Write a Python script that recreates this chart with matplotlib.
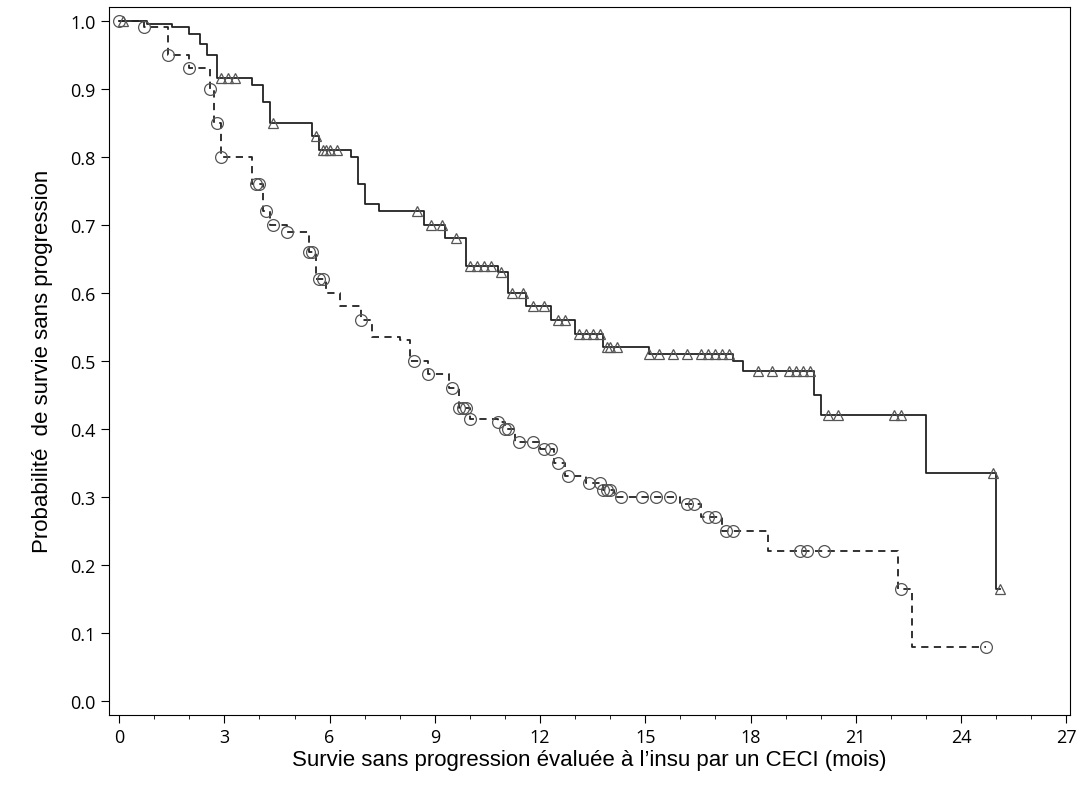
import matplotlib
matplotlib.use("Agg")
import matplotlib.pyplot as plt
import numpy as np

# Treatment arm (solid, triangles)
t_a = [0, 0.8, 1.5, 2.0, 2.3, 2.5, 2.8, 3.8, 4.1, 4.3, 5.5, 5.7, 6.6, 6.8, 7.0, 7.4, 8.7, 9.3, 9.9, 10.8, 11.1, 11.6, 12.3, 13.0, 13.8, 15.1, 17.5, 17.8, 19.8, 20.0, 23.0, 25.0]
s_a = [1.0, 0.995, 0.99, 0.98, 0.965, 0.95, 0.915, 0.905, 0.88, 0.85, 0.83, 0.81, 0.80, 0.76, 0.73, 0.72, 0.70, 0.68, 0.64, 0.63, 0.60, 0.58, 0.56, 0.54, 0.52, 0.51, 0.50, 0.485, 0.45, 0.42, 0.335, 0.165]
cens_a = [0.1, 2.9, 3.1, 3.3, 4.4, 5.6, 5.8, 5.9, 6.0, 6.2, 8.5, 8.9, 9.2, 9.6, 10.0, 10.2, 10.4, 10.6, 10.9, 11.2, 11.5, 11.8, 12.1, 12.5, 12.7, 13.1, 13.3, 13.5, 13.7, 13.9, 14.0, 14.2, 15.1, 15.4, 15.8, 16.2, 16.6, 16.8, 17.0, 17.2, 17.4, 18.2, 18.6, 19.1, 19.3, 19.5, 19.7, 20.2, 20.5, 22.1, 22.3, 24.9, 25.1]

# Control arm (dashed, circles)
t_b = [0, 0.7, 1.4, 2.0, 2.6, 2.7, 2.9, 3.8, 4.1, 4.3, 4.8, 5.4, 5.6, 5.9, 6.3, 6.9, 7.2, 8.0, 8.3, 8.8, 9.4, 9.7, 10.0, 10.8, 11.0, 11.3, 12.0, 12.4, 12.7, 13.3, 13.8, 14.1, 16.0, 16.6, 17.2, 18.5, 22.2, 22.6]
s_b = [1.0, 0.99, 0.95, 0.93, 0.90, 0.85, 0.80, 0.76, 0.72, 0.70, 0.69, 0.66, 0.62, 0.60, 0.58, 0.56, 0.535, 0.53, 0.50, 0.48, 0.46, 0.43, 0.415, 0.41, 0.40, 0.38, 0.37, 0.35, 0.33, 0.32, 0.31, 0.30, 0.29, 0.27, 0.25, 0.22, 0.165, 0.08]
cens_b = [0.0, 0.7, 1.4, 2.0, 2.6, 2.8, 2.9, 3.9, 4.0, 4.2, 4.4, 4.8, 5.4, 5.5, 5.7, 5.8, 6.9, 8.4, 8.8, 9.5, 9.7, 9.8, 9.9, 10.0, 10.8, 11.0, 11.1, 11.4, 11.8, 12.1, 12.3, 12.5, 12.8, 13.4, 13.7, 13.8, 13.9, 14.0, 14.3, 14.9, 15.3, 15.7, 16.2, 16.4, 16.8, 17.0, 17.3, 17.5, 19.4, 19.6, 20.1, 22.3, 24.7]

def step_val(t, s, x):
    i = np.searchsorted(t, x, side='right') - 1
    return np.array(s)[i]

fig, ax = plt.subplots(figsize=(10.86, 8.04), dpi=100)
fig.subplots_adjust(left=0.10, right=0.985, top=0.99, bottom=0.11)

ta = t_a + [25.1]; sa = s_a + [s_a[-1]]
tb = t_b + [24.7]; sb = s_b + [s_b[-1]]
ax.step(ta, sa, where='post', color='#222222', lw=1.3)
ax.step(tb, sb, where='post', color='#222222', lw=1.3, ls=(0, (4, 3)))
ax.plot(cens_a, step_val(t_a, s_a, cens_a), ls='none', marker='^', mfc='none', mec='#555555', ms=7, mew=0.9)
ax.plot(cens_b, step_val(t_b, s_b, cens_b), ls='none', marker='o', mfc='none', mec='#555555', ms=8.5, mew=0.9)

ax.set_xlim(-0.3, 27.1)
ax.set_ylim(-0.02, 1.02)
ax.set_xticks(np.arange(0, 28, 3))
ax.set_xticks(np.arange(0, 28, 1), minor=True)
ax.set_yticks(np.round(np.arange(0, 1.01, 0.1), 1))
ax.set_yticklabels([f"{v:.1f}" for v in np.arange(0, 1.01, 0.1)])
ax.tick_params(labelsize=13, length=6)
ax.tick_params(which='minor', length=3)
for lab in ax.get_xticklabels() + ax.get_yticklabels():
    lab.set_family('Open Sans')
ax.set_xlabel("Survie sans progression évaluée à l’insu par un CECI (mois)", fontsize=16, family='Liberation Sans', labelpad=2)
ax.set_ylabel("Probabilité  de survie sans progression", fontsize=16, family='Liberation Sans', labelpad=12)
fig.savefig("out.png")
